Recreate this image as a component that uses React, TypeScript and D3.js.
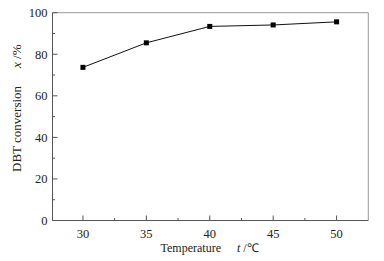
import React from "react";
import * as d3 from "d3";

const temperatures = [30, 35, 40, 45, 50];
const conversions = [73.7, 85.5, 93.4, 94.1, 95.6];
const xTicks = [30, 35, 40, 45, 50];
const xMinor = [32.5, 37.5, 42.5, 47.5];
const yTicks = [0, 20, 40, 60, 80, 100];
const yMinor = [10, 30, 50, 70, 90];

const W = 384, H = 261;
const left = 52.5, right = 368.3, top = 12.7, bottom = 220.5;
const font = "'Liberation Serif', 'Times New Roman', serif";

export default function App() {
  const x = d3.scaleLinear().domain([27.6, 52.5]).range([left, right]);
  const y = d3.scaleLinear().domain([0, 100]).range([bottom, top]);
  const line = d3.line<number>().x((_, i) => x(temperatures[i])).y((d) => y(d));
  const axisColor = "#555";
  const ms = 5;
  return (
    <svg width={W} height={H} style={{ position: "absolute", left: 0, top: 0, background: "#fff" }}>
      <rect x={0} y={0} width={W} height={H} fill="#fff" />
      {/* frame */}
      <line x1={left} x2={right} y1={top} y2={top} stroke="#999" strokeWidth={1} />
      <line x1={right} x2={right} y1={top} y2={bottom} stroke="#999" strokeWidth={1} />
      <line x1={left} x2={left} y1={top} y2={bottom} stroke={axisColor} strokeWidth={1} />
      <line x1={left} x2={right} y1={bottom} y2={bottom} stroke={axisColor} strokeWidth={1} />
      {/* y ticks */}
      {yTicks.map((t) => (
        <g key={"y" + t}>
          <line x1={left} x2={left + 5} y1={y(t)} y2={y(t)} stroke={axisColor} />
          <text x={left - 5} y={y(t)} dy="0.35em" textAnchor="end" fontFamily={font} fontSize={12.5} fill="#222">
            {t}
          </text>
        </g>
      ))}
      {yMinor.map((t) => (
        <line key={"ym" + t} x1={left} x2={left + 2.5} y1={y(t)} y2={y(t)} stroke={axisColor} />
      ))}
      {/* x ticks */}
      {xTicks.map((t) => (
        <g key={"x" + t}>
          <line x1={x(t)} x2={x(t)} y1={bottom} y2={bottom - 5} stroke={axisColor} />
          <text x={x(t)} y={238} textAnchor="middle" fontFamily={font} fontSize={12.5} fill="#222">
            {t}
          </text>
        </g>
      ))}
      {xMinor.map((t) => (
        <line key={"xm" + t} x1={x(t)} x2={x(t)} y1={bottom} y2={bottom - 2.5} stroke={axisColor} />
      ))}
      {/* data */}
      <path d={line(conversions) || ""} fill="none" stroke="#111" strokeWidth={1} />
      {conversions.map((v, i) => (
        <rect key={"p" + i} x={x(temperatures[i]) - ms / 2} y={y(v) - ms / 2} width={ms} height={ms} fill="#000" />
      ))}
      {/* titles */}
      <text x={160.5} y={252} fontFamily={font} fontSize={12} fill="#222">
        Temperature
        <tspan dx={16} fontStyle="italic">t</tspan>
        <tspan> /℃</tspan>
      </text>
      <text
        transform="translate(21,172) rotate(-90)"
        x={0}
        y={0}
        fontFamily={font}
        fontSize={13}
        fill="#222"
      >
        DBT conversion
        <tspan dx={18} fontStyle="italic">x</tspan>
        <tspan> /%</tspan>
      </text>
    </svg>
  );
}
